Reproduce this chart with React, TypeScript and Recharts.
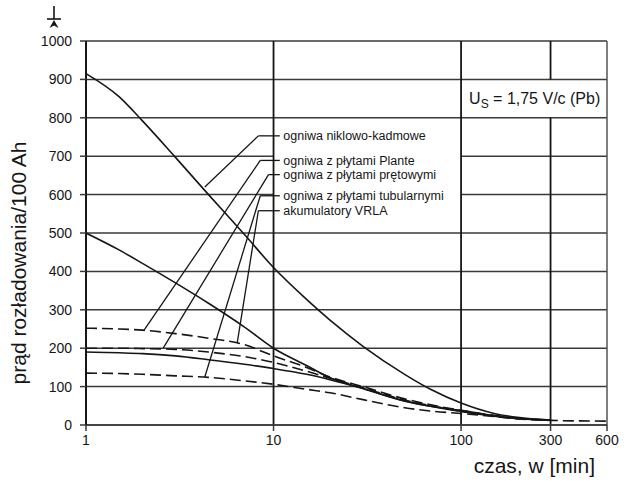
import React from "react";
import {
  LineChart,
  Line,
  XAxis,
  YAxis,
  CartesianGrid,
  ReferenceLine,
  ReferenceArea,
  ReferenceDot,
} from "recharts";

const FONT = '"Liberation Sans", Arial, sans-serif';
const INK = "#161616";
const GRID = "#3a3a3a";

// czas rozładowania [min]
const times = [1, 1.5, 2, 3, 4.5, 7, 10, 15, 20, 30, 50, 70, 100, 150, 200, 300, 600];

const nicd = [915, 855, 792, 697, 600, 496, 410, 327, 273, 205, 132, 91, 57, 30, 20, 13, null];
const upper = [500, 456, 421, 370, 317, 255, 200, 155, 123, 95, 62, 48, 38, 24, 17, 13, null];
const plante = [252, 250, 247, 238, 226, 209, 180, 150, 125, 100, 68, 52, 38, 25, 18, 13, null];
const rods = [200, 200, 199, 197, 190, 178, 163, 140, 122, 97, 65, 50, 36, 24, 17, 13, null];
const vrla = [190, 188, 186, 180, 170, 158, 147, 132, 118, 95, 63, 48, 35, 23, 17, 13, null];
const tubular = [135, 134, 132, 128, 124, 115, 106, 93, 84, 66, 45, 36, 30, 22, 16, 12, 10];

const xTicks = [1, 10, 100, 300, 600];
const yTicks = [0, 100, 200, 300, 400, 500, 600, 700, 800, 900, 1000];

// opisy krzywych z liniami odniesienia
const labelNames = [
  "ogniwa niklowo-kadmowe",
  "ogniwa z płytami Plante",
  "ogniwa z płytami prętowymi",
  "ogniwa z płytami tubularnymi",
  "akumulatory VRLA",
];
const labelLevels = [753, 689, 652, 597, 558];
const stubFrom = [8.3, 8.5, 9.4, 8.5, 8.3];
const leaderToT = [4.3, 2.04, 2.58, 4.3, 6.4];
const leaderToV = [620, 247, 200, 125, 213];

const data = times.map((t, i) => ({
  t,
  nicd: nicd[i],
  upper: upper[i],
  plante: plante[i],
  rods: rods[i],
  vrla: vrla[i],
  tubular: tubular[i],
}));

const series = [
  { key: "nicd", dash: undefined },
  { key: "upper", dash: undefined },
  { key: "plante", dash: "11 5" },
  { key: "rods", dash: "11 5" },
  { key: "vrla", dash: undefined },
  { key: "tubular", dash: "11 5" },
];

const tickStyle = { fill: INK, fontSize: 14, fontFamily: FONT };

const App = () => {
  return (
    <div style={{ position: "absolute", left: 0, top: 0, width: 630, height: 483, background: "#fff" }}>
      <LineChart
        width={630}
        height={483}
        data={data}
        margin={{ top: 41, right: 23, bottom: 0, left: 0 }}
      >
        <CartesianGrid vertical={false} stroke={GRID} strokeWidth={1.5} />
        <XAxis
          dataKey="t"
          type="number"
          scale="log"
          domain={[1, 600]}
          ticks={xTicks}
          allowDataOverflow
          height={58}
          tick={tickStyle}
          tickSize={6}
          tickMargin={4}
          axisLine={{ stroke: GRID, strokeWidth: 1.5 }}
          tickLine={{ stroke: GRID, strokeWidth: 1.5 }}
        />
        <YAxis
          type="number"
          domain={[0, 1000]}
          ticks={yTicks}
          width={86}
          tick={tickStyle}
          tickSize={6}
          tickMargin={8}
          axisLine={{ stroke: INK, strokeWidth: 2 }}
          tickLine={{ stroke: GRID, strokeWidth: 1.5 }}
        />
        <ReferenceArea x1={10} x2={100} y1={520} y2={785} fill="#fff" fillOpacity={1} stroke="none" />
        <ReferenceArea x1={100} x2={600} y1={805} y2={895} fill="#fff" fillOpacity={1} stroke="none" />
        <ReferenceLine x={10} stroke={INK} strokeWidth={1.8} />
        <ReferenceLine x={100} stroke={INK} strokeWidth={1.8} />
        <ReferenceLine segment={[{ x: 300, y: 0 }, { x: 300, y: 800 }]} stroke={INK} strokeWidth={1.8} />
        <ReferenceLine segment={[{ x: 300, y: 900 }, { x: 300, y: 1000 }]} stroke={INK} strokeWidth={1.8} />
        <ReferenceLine x={600} stroke="#555" strokeWidth={1.5} />
        {series.map((s) => (
          <Line
            key={s.key}
            dataKey={s.key}
            type="monotone"
            stroke={INK}
            strokeWidth={1.6}
            strokeDasharray={s.dash}
            dot={false}
            activeDot={false}
            isAnimationActive={false}
          />
        ))}
        {labelNames.map((name, i) => (
          <ReferenceLine
            key={`stub-${i}`}
            segment={[{ x: stubFrom[i], y: labelLevels[i] }, { x: 10.8, y: labelLevels[i] }]}
            stroke={INK}
            strokeWidth={1.3}
          />
        ))}
        {labelNames.map((name, i) => (
          <ReferenceLine
            key={`lead-${i}`}
            segment={[{ x: leaderToT[i], y: leaderToV[i] }, { x: stubFrom[i], y: labelLevels[i] }]}
            stroke={INK}
            strokeWidth={1.3}
          />
        ))}
        {labelNames.map((name, i) => (
          <ReferenceDot
            key={`txt-${i}`}
            x={11}
            y={labelLevels[i]}
            r={0}
            shape={(p: any) => (
              <text x={p.cx + 2} y={p.cy} dy="0.36em" fontSize={12.5} fontFamily={FONT} fill={INK}>
                {name}
              </text>
            )}
          />
        ))}
        <ReferenceDot
          x={100}
          y={850}
          r={0}
          shape={(p: any) => (
            <text x={p.cx + 8} y={p.cy} dy="0.36em" fontSize={16} fontFamily={FONT} fill={INK}>
              U<tspan fontSize={12} dy="4">S</tspan>
              <tspan dy="-4"> = 1,75 V/c (Pb)</tspan>
            </text>
          )}
        />
      </LineChart>
      <svg
        width={630}
        height={483}
        style={{ position: "absolute", left: 0, top: 0, pointerEvents: "none" }}
      >
        <text
          x={26}
          y={263}
          transform="rotate(-90 26 263)"
          textAnchor="middle"
          fontSize={21}
          fontFamily={FONT}
          fill={INK}
        >
          prąd rozładowania/100 Ah
        </text>
        <text x={595} y={473} textAnchor="end" fontSize={21} fontFamily={FONT} fill={INK}>
          czas, w [min]
        </text>
        <line x1={54} y1={6} x2={54} y2={19} stroke={INK} strokeWidth={1.6} />
        <line x1={47} y1={19} x2={61} y2={19} stroke={INK} strokeWidth={1.6} />
        <path d="M54 20 L49.5 28 L54 25.5 L58.5 28 Z" fill={INK} />
      </svg>
    </div>
  );
};

export default App;
